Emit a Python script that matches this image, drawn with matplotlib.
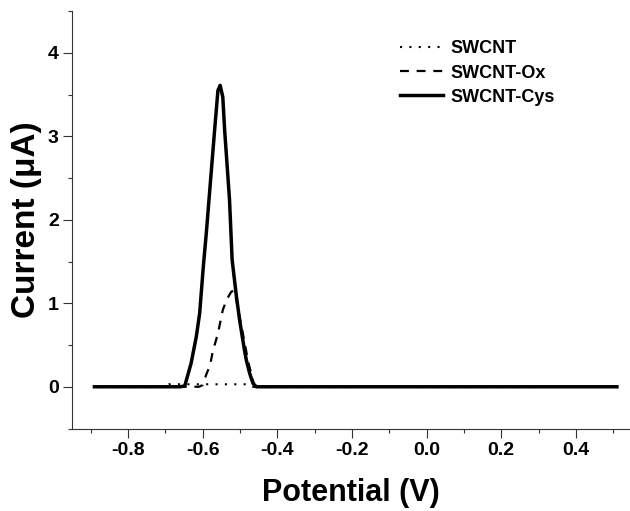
import matplotlib
matplotlib.use("Agg")
import matplotlib.pyplot as plt
from matplotlib.ticker import MultipleLocator

plt.rcParams['font.family'] = ['Liberation Sans', 'DejaVu Sans']
plt.rcParams['font.weight'] = 'bold'

# SWCNT (dotted) - essentially flat
swcnt_x = [-0.89, -0.70, -0.69, -0.48, -0.47, 0.51]
swcnt_y = [0.0, 0.0, 0.03, 0.03, 0.0, 0.0]

# SWCNT-Ox (dashed)
ox_x = [-0.89, -0.61, -0.60, -0.59, -0.58, -0.573, -0.559, -0.546, -0.535, -0.523,
        -0.515, -0.508, -0.501, -0.488, -0.478, -0.47, -0.461, 0.51]
ox_y = [0.0, 0.0, 0.02, 0.15, 0.26, 0.42, 0.64, 0.92, 1.05, 1.14,
        1.15, 1.0, 0.84, 0.54, 0.30, 0.16, 0.0, 0.0]

# SWCNT-Cys (solid)
cys_x = [-0.89, -0.66, -0.648, -0.631, -0.617, -0.608, -0.598, -0.59, -0.583, -0.568,
         -0.559, -0.553, -0.546, -0.541, -0.528, -0.521, -0.51, -0.501, -0.488, -0.483,
         -0.474, -0.465, -0.456, 0.51]
cys_y = [0.0, 0.0, 0.01, 0.28, 0.60, 0.88, 1.45, 1.85, 2.24, 3.07,
         3.55, 3.61, 3.47, 3.07, 2.24, 1.52, 1.10, 0.80, 0.44, 0.32,
         0.16, 0.04, 0.0, 0.0]

xticks = [-0.8, -0.6, -0.4, -0.2, 0.0, 0.2, 0.4]
xtick_labels = ["-0.8", "-0.6", "-0.4", "-0.2", "0.0", "0.2", "0.4"]
yticks = [0, 1, 2, 3, 4]
ytick_labels = ["0", "1", "2", "3", "4"]

fig = plt.figure(figsize=(6.3, 5.11), dpi=100)
ax = fig.add_axes([0.1143, 0.1614, 0.8857, 0.817])

ax.plot(swcnt_x, swcnt_y, color="black", lw=1.5, linestyle=(0, (1, 3.5)), label="SWCNT")
ax.plot(ox_x, ox_y, color="black", lw=1.6, linestyle=(0, (4, 3.5)), label="SWCNT-Ox")
ax.plot(cys_x, cys_y, color="black", lw=2.5, label="SWCNT-Cys")

ax.set_xlim(-0.95, 0.545)
ax.set_ylim(-0.5, 4.5)
ax.xaxis.set_minor_locator(MultipleLocator(0.1))
ax.yaxis.set_minor_locator(MultipleLocator(0.5))
ax.set_xticks(xticks)
ax.set_xticklabels(xtick_labels)
ax.set_yticks(yticks)
ax.set_yticklabels(ytick_labels)

for s in ["top", "right"]:
    ax.spines[s].set_visible(False)
for s in ["left", "bottom"]:
    ax.spines[s].set_linewidth(0.8)
    ax.spines[s].set_color("#333333")

ax.tick_params(which="major", direction="out", length=6.5, width=0.8, labelsize=14, pad=3, color="#333333")
ax.tick_params(which="minor", direction="out", length=3, width=0.8, color="#333333")

ax.set_xlabel("Potential (V)", fontsize=22, fontweight="bold", labelpad=14)
ax.set_ylabel("Current (\u03bcA)", fontsize=24, fontweight="bold", labelpad=4)

ax.legend(loc="upper left", bbox_to_anchor=(0.635, 0.921), bbox_transform=fig.transFigure,
          frameon=False, borderpad=0, borderaxespad=0, handlelength=2.4, handletextpad=0.4,
          labelspacing=0.4, prop={"size": 13, "weight": "bold"})

fig.savefig("out.png", dpi=100)
